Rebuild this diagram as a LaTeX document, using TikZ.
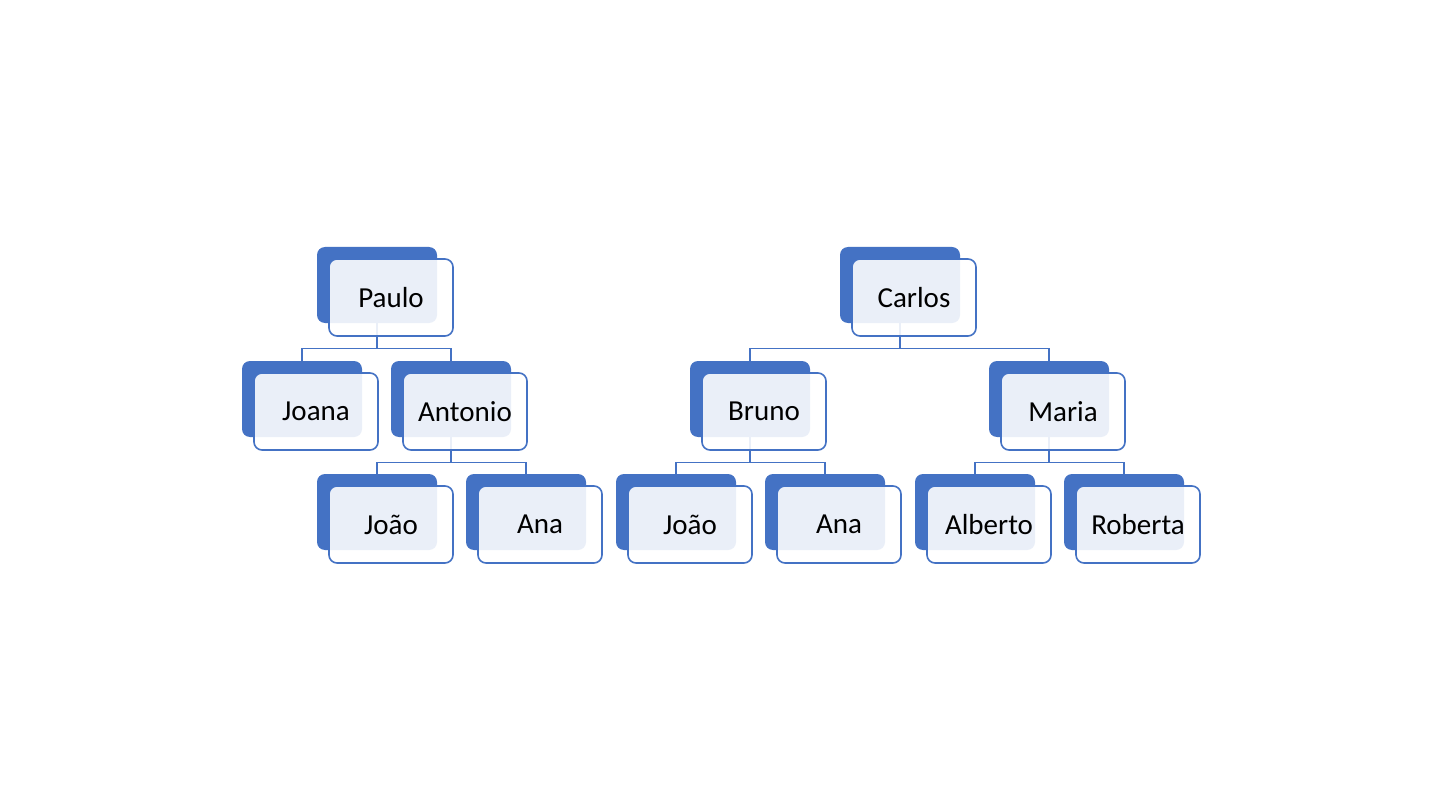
\documentclass[tikz,border=0pt]{standalone}
\usepackage{fontspec}
\setmainfont{Carlito}
\pgfdeclarelayer{background}
\pgfsetlayers{background,main}
\definecolor{ublue}{HTML}{4472C4}
\tikzset{
  backbox/.style={fill=ublue, rounded corners=8pt, minimum width=120pt, minimum height=76pt, inner sep=0pt},
  frontbox/.style={draw=ublue, line width=1.6pt, fill=white, fill opacity=0.89, text opacity=1, rounded corners=8pt, minimum width=124pt, minimum height=77pt, inner sep=0pt, font=\fontsize{29}{33}\selectfont},
  conn/.style={draw=ublue, line width=1.4pt}
}
\newcommand\onode[4]{%
  \node[backbox] (#1b) at (#2+60,#3+38) {};
  \node[frontbox] (#1) at (#2+74,#3+50.5) {#4};
}
\begin{document}
\begin{tikzpicture}[x=1pt,y=-1pt]
\useasboundingbox (0,0) rectangle (1440,810);
\onode{paulo}{317}{247}{Paulo}
\onode{joana}{242}{361}{Joana}
\onode{antonio}{391}{361}{Antonio}
\onode{joaoa}{317}{474}{João}
\onode{anaa}{466}{474}{Ana}
\onode{carlos}{840}{247}{Carlos}
\onode{bruno}{690}{361}{Bruno}
\onode{maria}{989}{361}{Maria}
\onode{joaob}{616}{474}{João}
\onode{anab}{765}{474}{Ana}
\onode{alberto}{915}{474}{Alberto}
\onode{roberta}{1064}{474}{Roberta}
\begin{pgfonlayer}{background}
\fill[white] (0,0) rectangle (1440,810);
\draw[conn] (paulob.south) -- ++(0,25) -| (joanab.north);
\draw[conn] (paulob.south) -- ++(0,25) -| (antoniob.north);
\draw[conn] (antoniob.south) -- ++(0,25) -| (joaoab.north);
\draw[conn] (antoniob.south) -- ++(0,25) -| (anaab.north);
\draw[conn] (carlosb.south) -- ++(0,25) -| (brunob.north);
\draw[conn] (carlosb.south) -- ++(0,25) -| (mariab.north);
\draw[conn] (brunob.south) -- ++(0,25) -| (joaobb.north);
\draw[conn] (brunob.south) -- ++(0,25) -| (anabb.north);
\draw[conn] (mariab.south) -- ++(0,25) -| (albertob.north);
\draw[conn] (mariab.south) -- ++(0,25) -| (robertab.north);
\end{pgfonlayer}
\end{tikzpicture}
\end{document}
